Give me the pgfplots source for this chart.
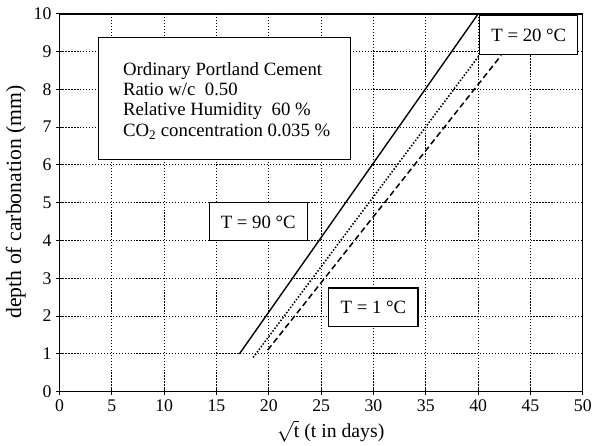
\documentclass[border=0pt]{standalone}
\usepackage{fontspec}
\setmainfont{Liberation Serif}
\usepackage{pgfplots}
\pgfplotsset{compat=1.18}

\newcommand{\boxfont}{\fontsize{19}{19}\selectfont}

\begin{document}
\begin{tikzpicture}
\begin{axis}[
  name=ax,
  scale only axis, width=528bp, height=381bp,
  xmin=0, xmax=50, ymin=0, ymax=10,
  xtick={0,5,...,50}, ytick={0,1,...,10},
  xtick pos=left, ytick pos=left,
  tick align=center, major tick length=7bp,
  major tick style={black, line width=1pt},
  grid=major,
  major grid style={black, line width=0.9pt, dash pattern=on 1.3pt off 1.7pt},
  axis line style={line width=1.3pt},
  tick label style={font=\fontsize{18}{18}\selectfont},
  /pgf/number format/assume math mode=true,
  xticklabel style={yshift=-1bp},
  yticklabel style={xshift=-1bp},
]
% T = 90 C
\addplot[black, line width=1.4pt] coordinates {(17.2,1.0) (40.0,10.0)};
% T = 20 C
\addplot[black, line width=1.6pt, dash pattern=on 1.5pt off 1.8pt] coordinates {(18.5,0.9) (40.1,8.9)};
% T = 1 C
\addplot[black, line width=1.5pt, dash pattern=on 6pt off 3.5pt] coordinates {(19.9,1.1) (42.2,8.9)};

% info box
\draw[line width=1.2pt, fill=white] (axis cs:3.69,6.14) rectangle (axis cs:27.84,9.38);
\node[anchor=base west, inner sep=0, font=\boxfont] at (axis cs:6.06,8.37) {Ordinary Portland Cement};
\node[anchor=base west, inner sep=0, font=\boxfont] at (axis cs:6.06,7.84) {Ratio w/c\ \ 0.50};
\node[anchor=base west, inner sep=0, font=\boxfont] at (axis cs:6.06,7.30) {Relative Humidity\ \ 60 \%};
\node[anchor=base west, inner sep=0, font=\boxfont] at (axis cs:6.06,6.76) {CO\textsubscript{2} concentration 0.035 \%};

% temperature boxes
\draw[line width=1.2pt, fill=white] (axis cs:40.15,8.92) rectangle (axis cs:49.5,9.95);
\node[font=\boxfont] at (axis cs:44.84,9.44) {T = 20 °C};
\draw[line width=1.2pt, fill=white] (axis cs:14.3,4.0) rectangle (axis cs:23.67,5.0);
\node[font=\boxfont] at (axis cs:18.99,4.49) {T = 90 °C};
\draw[line width=1.2pt, fill=white] (axis cs:25.73,1.73) rectangle (axis cs:34.25,2.74);
\node[font=\boxfont] at (axis cs:29.99,2.24) {T = 1 °C};
\end{axis}

% axis labels
\node[rotate=90, font=\fontsize{22}{22}\selectfont] at ([shift={(-44bp,191.3bp)}]ax.south west) {depth of carbonation (mm)};
\node[anchor=base, font=\fontsize{20}{20}\selectfont] at ([shift={(273.5bp,-46.5bp)}]ax.south west) {$\sqrt{\mathrm{t}}$\ (t in days)};

% page margins (invisible)
\path ([shift={(-60bp,-53bp)}]ax.south west) rectangle ([shift={(7bp,14bp)}]ax.north east);
\end{tikzpicture}
\end{document}
